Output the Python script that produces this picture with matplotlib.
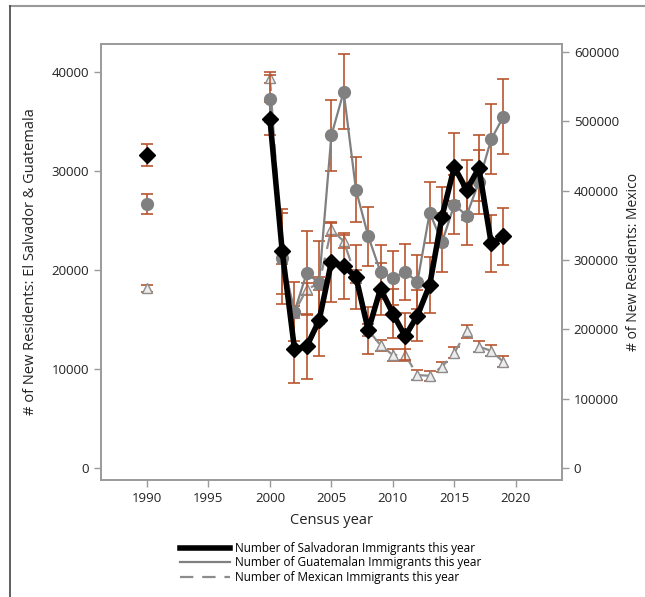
import numpy as np
import matplotlib.pyplot as plt
from matplotlib.lines import Line2D

plt.rcParams['font.family'] = ['Open Sans', 'DejaVu Sans']

years = [1990] + list(range(2000, 2020))

salvador = [31600, 35300, 21900, 12000, 12300, 14900, 20800, 20400, 19300, 13900,
            18100, 15600, 13300, 15400, 18500, 25400, 30400, 28100, 30300, 22700, 23400]
salvador_err = [1100, 1700, 4300, 3400, 3300, 3600, 4000, 3300, 3200, 2400,
                2600, 2500, 2400, 2600, 2800, 3000, 3400, 3000, 3300, 2900, 2900]

guatemala = [26700, 37300, 21200, 15800, 19700, 18700, 33600, 38000, 28100, 23400,
             19800, 19200, 19800, 18800, 25800, 22800, 26600, 25500, 28900, 33200, 35500]
guatemala_err = [1000, 2400, 4600, 3000, 4200, 4200, 3600, 3800, 3300, 3000,
                 2700, 2700, 2800, 2700, 3100, 3000, 3000, 3000, 3200, 3550, 3750]

mexico = [259000, 563000, 303000, 225000, 258000, 266000, 344000, 327000, 276000, 199000,
          177000, 163000, 163000, 134000, 133000, 146000, 166000, 197000, 175000, 169000, 153000]
mexico_err = [5000, 8000, 9000, 9000, 9000, 9000, 9000, 9000, 9000, 8000,
              8000, 8000, 8000, 7000, 7000, 7000, 8000, 9000, 8000, 8000, 8000]

err_color = '#b8552e'
frame_color = '#9a9a9a'

fig = plt.figure(figsize=(6.45, 5.97), dpi=100)
ax = fig.add_axes([0.1566, 0.196, 0.7147, 0.7303])
ax2 = ax.twinx()

# mexico on right axis
ax2.errorbar(years, mexico, yerr=mexico_err, fmt='none', ecolor=err_color,
             elinewidth=1.2, capsize=4.5, capthick=1.2, zorder=1)
ax2.plot(years[1:], mexico[1:], color='#8c8c8c', lw=1.6, ls=(0, (6, 4)), zorder=2)
ax2.plot(years, mexico, ls='none', marker='^', ms=7, mfc='#ececec', mec='#8c8c8c',
         mew=1.0, zorder=3)

ax.set_zorder(ax2.get_zorder() + 1)
ax.patch.set_visible(False)

ax.errorbar(years, guatemala, yerr=guatemala_err, fmt='none', ecolor=err_color,
            elinewidth=1.2, capsize=4.5, capthick=1.2, zorder=1)
ax.errorbar(years, salvador, yerr=salvador_err, fmt='none', ecolor=err_color,
            elinewidth=1.2, capsize=4.5, capthick=1.2, zorder=1)
ax.plot(years[1:], guatemala[1:], color='#808080', lw=1.6, zorder=2)
ax.plot(years, guatemala, ls='none', marker='o', ms=8.5, color='#808080', zorder=3)
ax.plot(years[1:], salvador[1:], color='black', lw=4, zorder=4)
ax.plot(years, salvador, ls='none', marker='D', ms=8, color='black', zorder=5)

ax.set_xlim(1986.26, 2023.76)
ax.set_ylim(-1212, 42828)
ax2.set_ylim(-17300, 611500)
ax.set_xticks(range(1990, 2021, 5))
ax.set_yticks(range(0, 40001, 10000))
ax2.set_yticks(range(0, 600001, 100000))

for a in (ax, ax2):
    for s in a.spines.values():
        s.set_color(frame_color)
        s.set_linewidth(1.2)
    a.tick_params(colors=frame_color, labelcolor='#222222', labelsize=9.5,
                  length=5, width=1)

ax.set_xlabel('Census year', fontsize=10.5, color='#222222', labelpad=6)
ax.set_ylabel('# of New Residents: El Salvador & Guatemala', fontsize=10.5,
              color='#222222', labelpad=10)
ax2.set_ylabel('# of New Residents: Mexico', fontsize=10, color='#222222',
               rotation=90, labelpad=5)

handles = [
    Line2D([], [], color='black', lw=4),
    Line2D([], [], color='#808080', lw=1.6),
    Line2D([], [], color='#8c8c8c', lw=1.6, ls=(0, (6, 4))),
]
labels = ['Number of Salvadoran Immigrants this year',
          'Number of Guatemalan Immigrants this year',
          'Number of Mexican Immigrants this year']
fig.legend(handles, labels, loc='center', bbox_to_anchor=(0.513, 0.057),
           frameon=False, fontsize=8.5, handlelength=4.2, labelspacing=0.12,
           handletextpad=0.5)

# outer frame lines of the original graphic
fig.add_artist(Line2D([10 / 645, 1], [1 - 6 / 597, 1 - 6 / 597], color='#999999', lw=1.5))
fig.add_artist(Line2D([10 / 645, 10 / 645], [0, 1 - 6 / 597], color='#444444', lw=1.2))

fig.savefig('out.png', dpi=100)
